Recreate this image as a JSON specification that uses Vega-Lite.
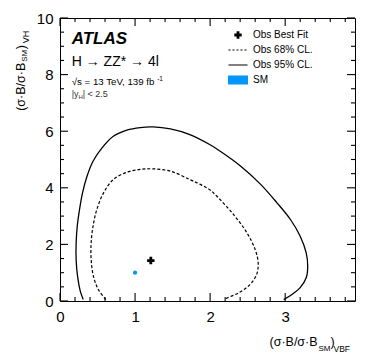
{
  "$schema": "https://vega.github.io/schema/vega-lite/v6.json",
  "width": 295,
  "height": 283,
  "autosize": {"type": "none"},
  "padding": {"left": 60, "top": 18, "right": 19, "bottom": 58},
  "background": "white",
  "config": {
    "view": {"stroke": "black", "strokeWidth": 1},
    "font": "Liberation Sans",
    "axis": {"grid": false, "domain": false, "ticks": false, "labelFont": "Liberation Sans", "labelFontSize": 15, "labelColor": "black", "labelFlush": false, "labelOverlap": false, "titleFont": "Liberation Sans", "titleFontWeight": "normal", "titleColor": "black", "titlePadding": 0}
  },
  "datasets": {
    "contours": [
      {"series": "Obs 95% CL.", "i": 1, "x": 0.31, "y": 0.05},
      {"series": "Obs 95% CL.", "i": 2, "x": 0.27, "y": 0.35},
      {"series": "Obs 95% CL.", "i": 3, "x": 0.235, "y": 0.85},
      {"series": "Obs 95% CL.", "i": 4, "x": 0.215, "y": 1.45},
      {"series": "Obs 95% CL.", "i": 5, "x": 0.215, "y": 2.05},
      {"series": "Obs 95% CL.", "i": 6, "x": 0.23, "y": 2.65},
      {"series": "Obs 95% CL.", "i": 7, "x": 0.26, "y": 3.23},
      {"series": "Obs 95% CL.", "i": 8, "x": 0.30, "y": 3.82},
      {"series": "Obs 95% CL.", "i": 9, "x": 0.36, "y": 4.41},
      {"series": "Obs 95% CL.", "i": 10, "x": 0.44, "y": 4.94},
      {"series": "Obs 95% CL.", "i": 11, "x": 0.56, "y": 5.41},
      {"series": "Obs 95% CL.", "i": 12, "x": 0.71, "y": 5.82},
      {"series": "Obs 95% CL.", "i": 13, "x": 0.89, "y": 6.04},
      {"series": "Obs 95% CL.", "i": 14, "x": 1.07, "y": 6.13},
      {"series": "Obs 95% CL.", "i": 15, "x": 1.24, "y": 6.15},
      {"series": "Obs 95% CL.", "i": 16, "x": 1.47, "y": 6.08},
      {"series": "Obs 95% CL.", "i": 17, "x": 1.73, "y": 5.88},
      {"series": "Obs 95% CL.", "i": 18, "x": 2.0, "y": 5.52},
      {"series": "Obs 95% CL.", "i": 19, "x": 2.13, "y": 5.30},
      {"series": "Obs 95% CL.", "i": 20, "x": 2.4, "y": 4.78},
      {"series": "Obs 95% CL.", "i": 21, "x": 2.67, "y": 4.13},
      {"series": "Obs 95% CL.", "i": 22, "x": 2.89, "y": 3.47},
      {"series": "Obs 95% CL.", "i": 23, "x": 3.07, "y": 2.88},
      {"series": "Obs 95% CL.", "i": 24, "x": 3.2, "y": 2.29},
      {"series": "Obs 95% CL.", "i": 25, "x": 3.28, "y": 1.70},
      {"series": "Obs 95% CL.", "i": 26, "x": 3.30, "y": 1.23},
      {"series": "Obs 95% CL.", "i": 27, "x": 3.28, "y": 0.82},
      {"series": "Obs 95% CL.", "i": 28, "x": 3.2, "y": 0.47},
      {"series": "Obs 95% CL.", "i": 29, "x": 3.09, "y": 0.23},
      {"series": "Obs 95% CL.", "i": 30, "x": 2.98, "y": 0.05},
      {"series": "Obs 68% CL.", "i": 1, "x": 0.61, "y": 0.05},
      {"series": "Obs 68% CL.", "i": 2, "x": 0.51, "y": 0.41},
      {"series": "Obs 68% CL.", "i": 3, "x": 0.445, "y": 0.88},
      {"series": "Obs 68% CL.", "i": 4, "x": 0.415, "y": 1.47},
      {"series": "Obs 68% CL.", "i": 5, "x": 0.415, "y": 2.06},
      {"series": "Obs 68% CL.", "i": 6, "x": 0.44, "y": 2.64},
      {"series": "Obs 68% CL.", "i": 7, "x": 0.49, "y": 3.23},
      {"series": "Obs 68% CL.", "i": 8, "x": 0.58, "y": 3.82},
      {"series": "Obs 68% CL.", "i": 9, "x": 0.71, "y": 4.29},
      {"series": "Obs 68% CL.", "i": 10, "x": 0.89, "y": 4.55},
      {"series": "Obs 68% CL.", "i": 11, "x": 1.07, "y": 4.65},
      {"series": "Obs 68% CL.", "i": 12, "x": 1.24, "y": 4.67},
      {"series": "Obs 68% CL.", "i": 13, "x": 1.47, "y": 4.59},
      {"series": "Obs 68% CL.", "i": 14, "x": 1.73, "y": 4.29},
      {"series": "Obs 68% CL.", "i": 15, "x": 1.87, "y": 4.12},
      {"series": "Obs 68% CL.", "i": 16, "x": 2.0, "y": 3.92},
      {"series": "Obs 68% CL.", "i": 17, "x": 2.09, "y": 3.70},
      {"series": "Obs 68% CL.", "i": 18, "x": 2.31, "y": 3.06},
      {"series": "Obs 68% CL.", "i": 19, "x": 2.49, "y": 2.41},
      {"series": "Obs 68% CL.", "i": 20, "x": 2.6, "y": 1.82},
      {"series": "Obs 68% CL.", "i": 21, "x": 2.64, "y": 1.35},
      {"series": "Obs 68% CL.", "i": 22, "x": 2.62, "y": 0.94},
      {"series": "Obs 68% CL.", "i": 23, "x": 2.53, "y": 0.58},
      {"series": "Obs 68% CL.", "i": 24, "x": 2.38, "y": 0.29},
      {"series": "Obs 68% CL.", "i": 25, "x": 2.2, "y": 0.08}
    ],
    "points": [
      {"series": "Obs Best Fit", "x": 1.21, "y": 1.43},
      {"series": "SM", "x": 1.0, "y": 1.0}
    ],
    "xticks": [
      {"v": 0, "kind": "major"}, {"v": 1, "kind": "major"}, {"v": 2, "kind": "major"}, {"v": 3, "kind": "major"},
      {"v": 0.2, "kind": "minor"}, {"v": 0.4, "kind": "minor"}, {"v": 0.6, "kind": "minor"}, {"v": 0.8, "kind": "minor"},
      {"v": 1.2, "kind": "minor"}, {"v": 1.4, "kind": "minor"}, {"v": 1.6, "kind": "minor"}, {"v": 1.8, "kind": "minor"},
      {"v": 2.2, "kind": "minor"}, {"v": 2.4, "kind": "minor"}, {"v": 2.6, "kind": "minor"}, {"v": 2.8, "kind": "minor"},
      {"v": 3.2, "kind": "minor"}, {"v": 3.4, "kind": "minor"}, {"v": 3.6, "kind": "minor"}, {"v": 3.8, "kind": "minor"}
    ],
    "yticks": [
      {"v": 0, "kind": "major"}, {"v": 2, "kind": "major"}, {"v": 4, "kind": "major"}, {"v": 6, "kind": "major"}, {"v": 8, "kind": "major"}, {"v": 10, "kind": "major"},
      {"v": 0.5, "kind": "minor"}, {"v": 1, "kind": "minor"}, {"v": 1.5, "kind": "minor"},
      {"v": 2.5, "kind": "minor"}, {"v": 3, "kind": "minor"}, {"v": 3.5, "kind": "minor"},
      {"v": 4.5, "kind": "minor"}, {"v": 5, "kind": "minor"}, {"v": 5.5, "kind": "minor"},
      {"v": 6.5, "kind": "minor"}, {"v": 7, "kind": "minor"}, {"v": 7.5, "kind": "minor"},
      {"v": 8.5, "kind": "minor"}, {"v": 9, "kind": "minor"}, {"v": 9.5, "kind": "minor"}
    ]
  },
  "layer": [
    {
      "data": {"name": "contours"},
      "transform": [{"filter": "datum.series === 'Obs 95% CL.'"}],
      "mark": {"type": "line", "strokeWidth": 1.3, "color": "black", "interpolate": "catmull-rom"},
      "encoding": {
        "x": {"field": "x", "type": "quantitative", "scale": {"domain": [0, 3.93], "nice": false, "zero": false},
          "axis": {"orient": "bottom", "values": [0, 1, 2, 3], "labelPadding": 8, "format": "d",
            "title": "(σ·B/σ·B", "titleFontSize": 12.5, "titleX": 209, "titleY": 44, "titleAlign": "left", "titleBaseline": "alphabetic"}},
        "y": {"field": "y", "type": "quantitative", "scale": {"domain": [0, 10], "nice": false},
          "axis": {"orient": "left", "values": [0, 2, 4, 6, 8, 10], "labelPadding": 7, "format": "d",
            "title": "(σ·B/σ·B", "titleFontSize": 12.5, "titleAngle": 270, "titleX": -36, "titleY": 92.3, "titleAlign": "left", "titleBaseline": "alphabetic"}},
        "order": {"field": "i", "type": "quantitative"}
      }
    },
    {
      "data": {"name": "contours"},
      "transform": [{"filter": "datum.series === 'Obs 68% CL.'"}],
      "mark": {"type": "line", "strokeWidth": 1.2, "color": "black", "strokeDash": [3, 2], "interpolate": "catmull-rom"},
      "encoding": {
        "x": {"field": "x", "type": "quantitative", "scale": {"domain": [0, 3.93], "nice": false, "zero": false},
          "axis": {"orient": "bottom", "values": [0], "labels": false,
            "title": "SM", "titleFontSize": 8, "titleX": 258, "titleY": 49, "titleAlign": "left", "titleBaseline": "alphabetic"}},
        "y": {"field": "y", "type": "quantitative", "scale": {"domain": [0, 10], "nice": false},
          "axis": {"orient": "left", "values": [0], "labels": false,
            "title": "SM", "titleFontSize": 8, "titleAngle": 270, "titleX": -33.3, "titleY": 43.3, "titleAlign": "left", "titleBaseline": "alphabetic"}},
        "order": {"field": "i", "type": "quantitative"}
      }
    },
    {
      "data": {"name": "points"},
      "transform": [{"filter": "datum.series === 'Obs Best Fit'"}],
      "mark": {"type": "point", "filled": true, "size": 400, "opacity": 1, "strokeWidth": 1.2},
      "encoding": {
        "x": {"field": "x", "type": "quantitative", "scale": {"domain": [0, 3.93], "nice": false, "zero": false},
          "axis": {"orient": "top", "values": [0], "labels": false,
            "title": ")", "titleFontSize": 12.5, "titleX": 270, "titleY": 327, "titleAlign": "left", "titleBaseline": "alphabetic"}},
        "y": {"field": "y", "type": "quantitative", "scale": {"domain": [0, 10], "nice": false},
          "axis": {"orient": "right", "values": [0], "labels": false,
            "title": ")", "titleFontSize": 12.5, "titleAngle": 270, "titleX": -331, "titleY": 30.7, "titleAlign": "left", "titleBaseline": "alphabetic"}},
        "fill": {"field": "series", "type": "nominal",
          "scale": {"domain": ["Obs Best Fit", "Obs 68% CL.", "Obs 95% CL.", "SM"], "range": ["black", "transparent", "transparent", "#0096ff"]},
          "legend": {"title": null, "orient": "none", "legendX": 167, "legendY": 11.3, "labelFont": "Liberation Sans", "labelFontSize": 10, "labelColor": "black", "labelOffset": 4, "rowPadding": 3, "symbolSize": 400, "symbolStrokeWidth": 1.2, "clipHeight": 11.4, "symbolOpacity": 1}},
        "stroke": {"field": "series", "type": "nominal",
          "scale": {"domain": ["Obs Best Fit", "Obs 68% CL.", "Obs 95% CL.", "SM"], "range": ["transparent", "black", "black", "transparent"]},
          "legend": {"title": null, "orient": "none", "legendX": 167, "legendY": 11.3, "labelFont": "Liberation Sans", "labelFontSize": 10, "labelColor": "black", "labelOffset": 4, "rowPadding": 3, "symbolSize": 400, "symbolStrokeWidth": 1.2, "clipHeight": 11.4, "symbolOpacity": 1}},
        "shape": {"field": "series", "type": "nominal",
          "scale": {"domain": ["Obs Best Fit", "Obs 68% CL.", "Obs 95% CL.", "SM"], "range": ["M-0.37,-0.14H-0.14V-0.37H0.14V-0.14H0.37V0.14H0.14V0.37H-0.14V0.14H-0.37Z", "M-0.95,0H0.95", "M-0.95,0H0.95", "M-1,-0.45H1V0.45H-1Z"]},
          "legend": {"title": null, "orient": "none", "legendX": 167, "legendY": 11.3, "labelFont": "Liberation Sans", "labelFontSize": 10, "labelColor": "black", "labelOffset": 4, "rowPadding": 3, "symbolSize": 400, "symbolStrokeWidth": 1.2, "clipHeight": 11.4, "symbolOpacity": 1}},
        "strokeDash": {"field": "series", "type": "nominal",
          "scale": {"domain": ["Obs Best Fit", "Obs 68% CL.", "Obs 95% CL.", "SM"], "range": [[1, 0], [2, 2], [1, 0], [1, 0]]},
          "legend": {"title": null, "orient": "none", "legendX": 167, "legendY": 11.3, "labelFont": "Liberation Sans", "labelFontSize": 10, "labelColor": "black", "labelOffset": 4, "rowPadding": 3, "symbolSize": 400, "symbolStrokeWidth": 1.2, "clipHeight": 11.4, "symbolOpacity": 1}}
      }
    },
    {
      "data": {"name": "points"},
      "transform": [{"filter": "datum.series === 'SM'"}],
      "mark": {"type": "point", "shape": "circle", "filled": true, "size": 18, "color": "#0096ff", "opacity": 1},
      "encoding": {
        "x": {"field": "x", "type": "quantitative", "scale": {"domain": [0, 3.93], "nice": false, "zero": false},
          "axis": {"orient": "top", "values": [0], "labels": false,
            "title": "VBF", "titleFontSize": 8.5, "titleX": 273, "titleY": 333.7, "titleAlign": "left", "titleBaseline": "alphabetic"}},
        "y": {"field": "y", "type": "quantitative", "scale": {"domain": [0, 10], "nice": false},
          "axis": {"orient": "right", "values": [0], "labels": false,
            "title": "VH", "titleFontSize": 9, "titleAngle": 270, "titleX": -327, "titleY": 24.7, "titleAlign": "left", "titleBaseline": "alphabetic"}}
      }
    },
    {
      "data": {"name": "xticks"},
      "transform": [{"filter": "datum.kind === 'major'"}],
      "mark": {"type": "rule", "color": "black", "strokeWidth": 1.1, "y2Offset": -8},
      "encoding": {
        "x": {"field": "v", "type": "quantitative", "scale": {"domain": [0, 3.93], "nice": false, "zero": false}, "axis": null},
        "y": {"datum": 0, "type": "quantitative", "scale": {"domain": [0, 10], "nice": false}, "axis": null},
        "y2": {"datum": 0}
      }
    },
    {
      "data": {"name": "xticks"},
      "transform": [{"filter": "datum.kind === 'minor'"}],
      "mark": {"type": "rule", "color": "black", "strokeWidth": 1.1, "y2Offset": -4},
      "encoding": {
        "x": {"field": "v", "type": "quantitative", "scale": {"domain": [0, 3.93], "nice": false, "zero": false}, "axis": null},
        "y": {"datum": 0, "type": "quantitative", "scale": {"domain": [0, 10], "nice": false}, "axis": null},
        "y2": {"datum": 0}
      }
    },
    {
      "data": {"name": "xticks"},
      "transform": [{"filter": "datum.kind === 'major'"}],
      "mark": {"type": "rule", "color": "black", "strokeWidth": 1.1, "y2Offset": 8},
      "encoding": {
        "x": {"field": "v", "type": "quantitative", "scale": {"domain": [0, 3.93], "nice": false, "zero": false}, "axis": null},
        "y": {"datum": 10, "type": "quantitative", "scale": {"domain": [0, 10], "nice": false}, "axis": null},
        "y2": {"datum": 10}
      }
    },
    {
      "data": {"name": "xticks"},
      "transform": [{"filter": "datum.kind === 'minor'"}],
      "mark": {"type": "rule", "color": "black", "strokeWidth": 1.1, "y2Offset": 4},
      "encoding": {
        "x": {"field": "v", "type": "quantitative", "scale": {"domain": [0, 3.93], "nice": false, "zero": false}, "axis": null},
        "y": {"datum": 10, "type": "quantitative", "scale": {"domain": [0, 10], "nice": false}, "axis": null},
        "y2": {"datum": 10}
      }
    },
    {
      "data": {"name": "yticks"},
      "transform": [{"filter": "datum.kind === 'major'"}],
      "mark": {"type": "rule", "color": "black", "strokeWidth": 1.1, "x2Offset": 8},
      "encoding": {
        "y": {"field": "v", "type": "quantitative", "scale": {"domain": [0, 10], "nice": false}, "axis": null},
        "x": {"datum": 0, "type": "quantitative", "scale": {"domain": [0, 3.93], "nice": false, "zero": false}, "axis": null},
        "x2": {"datum": 0}
      }
    },
    {
      "data": {"name": "yticks"},
      "transform": [{"filter": "datum.kind === 'minor'"}],
      "mark": {"type": "rule", "color": "black", "strokeWidth": 1.1, "x2Offset": 4},
      "encoding": {
        "y": {"field": "v", "type": "quantitative", "scale": {"domain": [0, 10], "nice": false}, "axis": null},
        "x": {"datum": 0, "type": "quantitative", "scale": {"domain": [0, 3.93], "nice": false, "zero": false}, "axis": null},
        "x2": {"datum": 0}
      }
    },
    {
      "data": {"name": "yticks"},
      "transform": [{"filter": "datum.kind === 'major'"}],
      "mark": {"type": "rule", "color": "black", "strokeWidth": 1.1, "x2Offset": -8},
      "encoding": {
        "y": {"field": "v", "type": "quantitative", "scale": {"domain": [0, 10], "nice": false}, "axis": null},
        "x": {"datum": 3.93, "type": "quantitative", "scale": {"domain": [0, 3.93], "nice": false, "zero": false}, "axis": null},
        "x2": {"datum": 3.93}
      }
    },
    {
      "data": {"name": "yticks"},
      "transform": [{"filter": "datum.kind === 'minor'"}],
      "mark": {"type": "rule", "color": "black", "strokeWidth": 1.1, "x2Offset": -4},
      "encoding": {
        "y": {"field": "v", "type": "quantitative", "scale": {"domain": [0, 10], "nice": false}, "axis": null},
        "x": {"datum": 3.93, "type": "quantitative", "scale": {"domain": [0, 3.93], "nice": false, "zero": false}, "axis": null},
        "x2": {"datum": 3.93}
      }
    },
    {
      "data": {"values": [{}]},
      "mark": {"type": "text", "text": "ATLAS", "font": "Liberation Sans", "fontSize": 17, "fontWeight": "bold", "fontStyle": "italic", "align": "left", "baseline": "alphabetic", "color": "black"},
      "encoding": {
        "x": {"datum": 0.156, "type": "quantitative", "scale": {"domain": [0, 3.93], "nice": false, "zero": false}, "axis": null},
        "y": {"datum": 9.07, "type": "quantitative", "scale": {"domain": [0, 10], "nice": false}, "axis": null}
      }
    },
    {
      "data": {"values": [{}]},
      "mark": {"type": "text", "text": "H → ZZ* → 4l", "font": "Liberation Sans", "fontSize": 14, "align": "left", "baseline": "alphabetic", "color": "black"},
      "encoding": {
        "x": {"datum": 0.156, "type": "quantitative", "scale": {"domain": [0, 3.93], "nice": false, "zero": false}, "axis": null},
        "y": {"datum": 8.32, "type": "quantitative", "scale": {"domain": [0, 10], "nice": false}, "axis": null}
      }
    },
    {
      "data": {"values": [{}]},
      "mark": {"type": "text", "text": "√s = 13 TeV, 139 fb", "font": "Liberation Sans", "fontSize": 9.7, "align": "left", "baseline": "alphabetic", "color": "black"},
      "encoding": {
        "x": {"datum": 0.156, "type": "quantitative", "scale": {"domain": [0, 3.93], "nice": false, "zero": false}, "axis": null},
        "y": {"datum": 7.63, "type": "quantitative", "scale": {"domain": [0, 10], "nice": false}, "axis": null}
      }
    },
    {
      "data": {"values": [{}]},
      "mark": {"type": "text", "text": "-1", "font": "Liberation Sans", "fontSize": 6.5, "align": "left", "baseline": "alphabetic", "color": "black", "dx": 85.5, "dy": -4},
      "encoding": {
        "x": {"datum": 0.156, "type": "quantitative", "scale": {"domain": [0, 3.93], "nice": false, "zero": false}, "axis": null},
        "y": {"datum": 7.63, "type": "quantitative", "scale": {"domain": [0, 10], "nice": false}, "axis": null}
      }
    },
    {
      "data": {"values": [{}]},
      "mark": {"type": "text", "text": "|y", "font": "Liberation Sans", "fontSize": 9, "align": "left", "baseline": "alphabetic", "color": "#333333"},
      "encoding": {
        "x": {"datum": 0.156, "type": "quantitative", "scale": {"domain": [0, 3.93], "nice": false, "zero": false}, "axis": null},
        "y": {"datum": 7.2, "type": "quantitative", "scale": {"domain": [0, 10], "nice": false}, "axis": null}
      }
    },
    {
      "data": {"values": [{}]},
      "mark": {"type": "text", "text": "H", "font": "Liberation Sans", "fontSize": 6, "align": "left", "baseline": "alphabetic", "color": "#333333", "dx": 6.8, "dy": 2},
      "encoding": {
        "x": {"datum": 0.156, "type": "quantitative", "scale": {"domain": [0, 3.93], "nice": false, "zero": false}, "axis": null},
        "y": {"datum": 7.2, "type": "quantitative", "scale": {"domain": [0, 10], "nice": false}, "axis": null}
      }
    },
    {
      "data": {"values": [{}]},
      "mark": {"type": "text", "text": "| < 2.5", "font": "Liberation Sans", "fontSize": 9, "align": "left", "baseline": "alphabetic", "color": "#333333", "dx": 11},
      "encoding": {
        "x": {"datum": 0.156, "type": "quantitative", "scale": {"domain": [0, 3.93], "nice": false, "zero": false}, "axis": null},
        "y": {"datum": 7.2, "type": "quantitative", "scale": {"domain": [0, 10], "nice": false}, "axis": null}
      }
    }
  ],
  "resolve": {"axis": {"x": "independent", "y": "independent"}}
}
